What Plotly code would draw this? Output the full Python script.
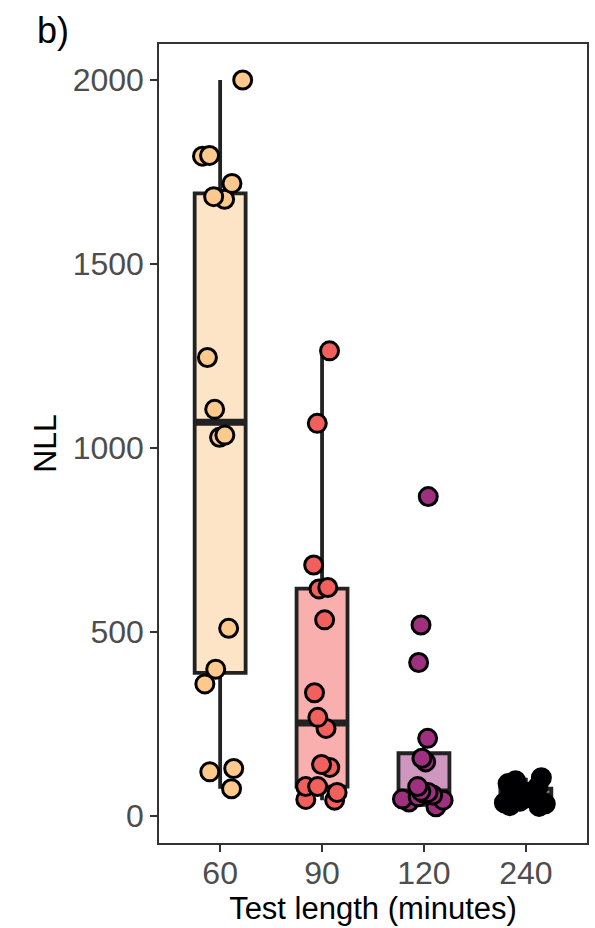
import numpy as np
import plotly.graph_objects as go

# ---- data ----
categories = ["60", "90", "120", "240"]
nll_60 = [2000, 1795, 1793, 1719, 1683, 1676, 1246, 1105, 1035, 1029, 510, 399, 359, 129, 120, 74]
nll_90 = [1264, 1067, 682, 621, 617, 533, 335, 268, 238, 140, 132, 80, 80, 64, 45, 43]
nll_120 = [868, 519, 417, 211, 157, 147, 80, 67, 64, 62, 57, 52, 46, 43, 38, 25]
nll_240 = [104, 96, 88, 80, 72, 66, 60, 55, 52, 48, 44, 40, 36, 33, 28, 26]
y_ticks = [0, 500, 1000, 1500, 2000]

point_colors = ["#FEC98D", "#F1605D", "#9F2F7F", "#000004"]
box_fills = ["rgba(254,201,141,0.5)", "rgba(241,96,93,0.5)",
             "rgba(159,47,127,0.5)", "rgba(0,0,4,0.5)"]

groups = [nll_60, nll_90, nll_120, nll_240]
positions = list(range(1, len(categories) + 1))

BOX_W = 0.5
EDGE = "#222222"
FONT = "Liberation Sans, Arial, Helvetica, sans-serif"

fig = go.Figure()

stats = []
for vals in groups:
    arr = np.asarray(vals, dtype=float)
    q1, med, q3 = np.percentile(arr, [25, 50, 75])
    iqr = q3 - q1
    hi = arr[arr <= q3 + 1.5 * iqr].max()
    lo = arr[arr >= q1 - 1.5 * iqr].min()
    stats.append((q1, med, q3, lo, hi))

# boxes (ggplot-style stats: type-7 quartiles, 1.5 IQR whiskers)
for pos, (q1, med, q3, lo, hi), fill in zip(positions, stats, box_fills):
    fig.add_trace(go.Box(
        x=[pos], q1=[q1], median=[med], q3=[q3], lowerfence=[lo], upperfence=[hi],
        width=BOX_W, whiskerwidth=0, fillcolor=fill,
        line=dict(color=EDGE, width=3.8), boxpoints=False,
        showlegend=False, hoverinfo="skip"))

# thicker median bars
for pos, (q1, med, q3, lo, hi) in zip(positions, stats):
    fig.add_trace(go.Box(
        x=[pos], q1=[med], median=[med], q3=[med], lowerfence=[med], upperfence=[med],
        width=BOX_W, whiskerwidth=0, fillcolor="rgba(0,0,0,0)",
        line=dict(color=EDGE, width=7), boxpoints=False,
        showlegend=False, hoverinfo="skip"))

# jittered points
for pos, vals, col in zip(positions, groups, point_colors):
    fig.add_trace(go.Box(
        x=[pos] * len(vals), y=vals, boxpoints="all", jitter=1.0, pointpos=0,
        width=BOX_W, whiskerwidth=0, fillcolor="rgba(0,0,0,0)",
        line=dict(color="rgba(0,0,0,0)", width=0),
        marker=dict(color=col, size=18, opacity=1, line=dict(color="black", width=3)),
        showlegend=False, hoverinfo="skip"))

axis_common = dict(
    showline=True, mirror=True, linecolor="#333333", linewidth=1.5,
    ticks="outside", ticklen=7, tickwidth=1.5, tickcolor="#333333",
    tickfont=dict(size=32, color="#4D4D4D", family=FONT),
    showgrid=False, zeroline=False,
)

fig.update_layout(
    width=595, height=928,
    margin=dict(l=159, r=6, t=44, b=85),
    paper_bgcolor="white", plot_bgcolor="white",
    boxmode="overlay", showlegend=False,
    font=dict(family=FONT),
    xaxis=dict(range=[0.4, 4.6], tickvals=positions, ticktext=categories,
               ticklabelstandoff=-6,
               title=dict(text="Test length (minutes)", font=dict(size=31, color="black"), standoff=4),
               **axis_common),
    yaxis=dict(range=[-73.4, 2097.8], tickvals=y_ticks, ticktext=[str(v) for v in y_ticks],
               title=dict(text="NLL", font=dict(size=32, color="black"), standoff=6),
               **axis_common),
    annotations=[dict(text="b)", xref="paper", yref="paper", x=-0.29, y=1.045,
                      xanchor="left", yanchor="top", showarrow=False,
                      font=dict(size=36, color="black", family=FONT))],
)

fig.write_html("out.html", config={"displayModeBar": False},
               post_script="document.body.style.margin='0';document.body.style.padding='0';")
